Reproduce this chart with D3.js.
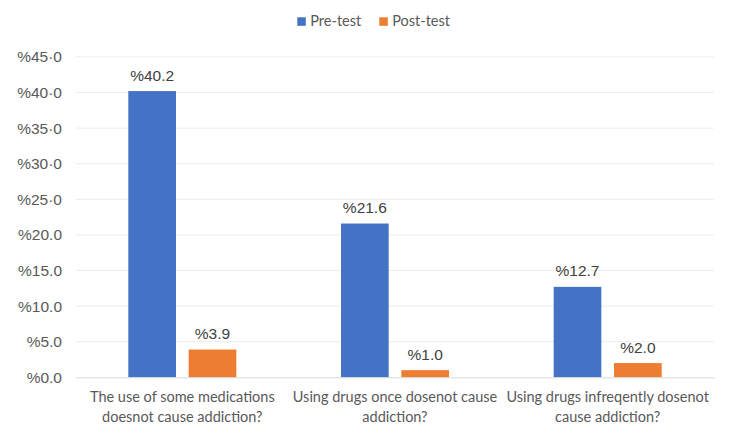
<!DOCTYPE html>
<html><head><meta charset="utf-8">
<script src="https://cdn.jsdelivr.net/npm/d3@7"></script>
<style>body{margin:0;background:#fff}</style>
</head><body>
<svg id="c" width="750" height="441"></svg>
<script>
const categories = [
  ["The use of some medications","doesnot cause addiction?"],
  ["Using drugs once dosenot cause","addiction?"],
  ["Using drugs infreqently dosenot","cause addiction?"]
];
const seriesNames = ["Pre-test","Post-test"];
const preTest = [40.2, 21.6, 12.7];
const postTest = [3.9, 1.0, 2.0];
const yTicks = [0,5,10,15,20,25,30,35,40,45];
const yTickLabels = ["%0.0","%5.0","%10.0","%15.0","%20.0","%25·0","%30·0","%35·0","%40·0","%45·0"];
const colors = ["#4472C4","#ED7D31"];

(function(){
const svg = d3.select("#c");
const mLeft = 76, mRight = 714, mTop = 56.9, mBottom = 377.3;
const y = d3.scaleLinear().domain([0,45]).range([mBottom, mTop]);
const x0 = d3.scaleBand().domain(d3.range(categories.length)).range([mLeft, mRight]).paddingInner(0.492).paddingOuter(0.246);
const x1 = d3.scaleBand().domain(d3.range(2)).range([0, x0.bandwidth()]).paddingInner(0.21).paddingOuter(0);

svg.append("g").selectAll("line").data(yTicks.filter(d=>d>0)).join("line")
  .attr("x1", mLeft).attr("x2", mRight)
  .attr("y1", d=>y(d)).attr("y2", d=>y(d))
  .attr("stroke", "#ececec").attr("stroke-width", 1);

svg.append("g").selectAll("text").data(yTicks).join("text")
  .attr("x", 62).attr("y", d=>y(d)).attr("dy","0.36em")
  .attr("text-anchor","end")
  .attr("font-family","Liberation Sans, Arial, sans-serif").attr("font-size","15.5px")
  .attr("fill","#595959")
  .text((d,i)=>yTickLabels[i]);

const series = [preTest, postTest];
const g = svg.append("g");
series.forEach((vals, si) => {
  g.selectAll(".b"+si).data(vals).join("rect").attr("class","b"+si)
    .attr("x", (d,i)=>x0(i)+x1(si))
    .attr("width", x1.bandwidth())
    .attr("y", d=>y(d))
    .attr("height", d=>y(0)-y(d))
    .attr("fill", colors[si]);
  g.selectAll(".l"+si).data(vals).join("text").attr("class","l"+si)
    .attr("x", (d,i)=>x0(i)+x1(si)+x1.bandwidth()/2)
    .attr("y", d=>y(d)-10.5)
    .attr("text-anchor","middle")
    .attr("font-family","Liberation Sans, Arial, sans-serif").attr("font-size","15.5px")
    .attr("fill","#404040")
    .text(d=>"%"+d.toFixed(1));
});

svg.append("line").attr("x1",mLeft).attr("x2",mRight).attr("y1",y(0)+0.5).attr("y2",y(0)+0.5)
  .attr("stroke","#d9d9d9").attr("stroke-width",1);

const cat = svg.append("g").selectAll("text").data(categories).join("text")
  .attr("text-anchor","middle")
  .attr("font-family","Lato, sans-serif").attr("font-size","14.5px")
  .attr("fill","#595959");
cat.each(function(lines,i){
  const t = d3.select(this);
  lines.forEach((ln,j)=>{
    t.append("tspan").attr("x", x0(i)+x0.bandwidth()/2).attr("y", 401.7+j*20).text(ln);
  });
});

const legX = [297.3, 379.3];
const leg = svg.append("g");
seriesNames.forEach((n,i)=>{
  leg.append("rect").attr("x",legX[i]).attr("y",17.3).attr("width",8.5).attr("height",8.5).attr("fill",colors[i]);
  leg.append("text").attr("x",legX[i]+13).attr("y",26)
    .attr("font-family","Lato, sans-serif").attr("font-size","14.5px").attr("fill","#595959").text(n);
});
})();
</script>
</body></html>
